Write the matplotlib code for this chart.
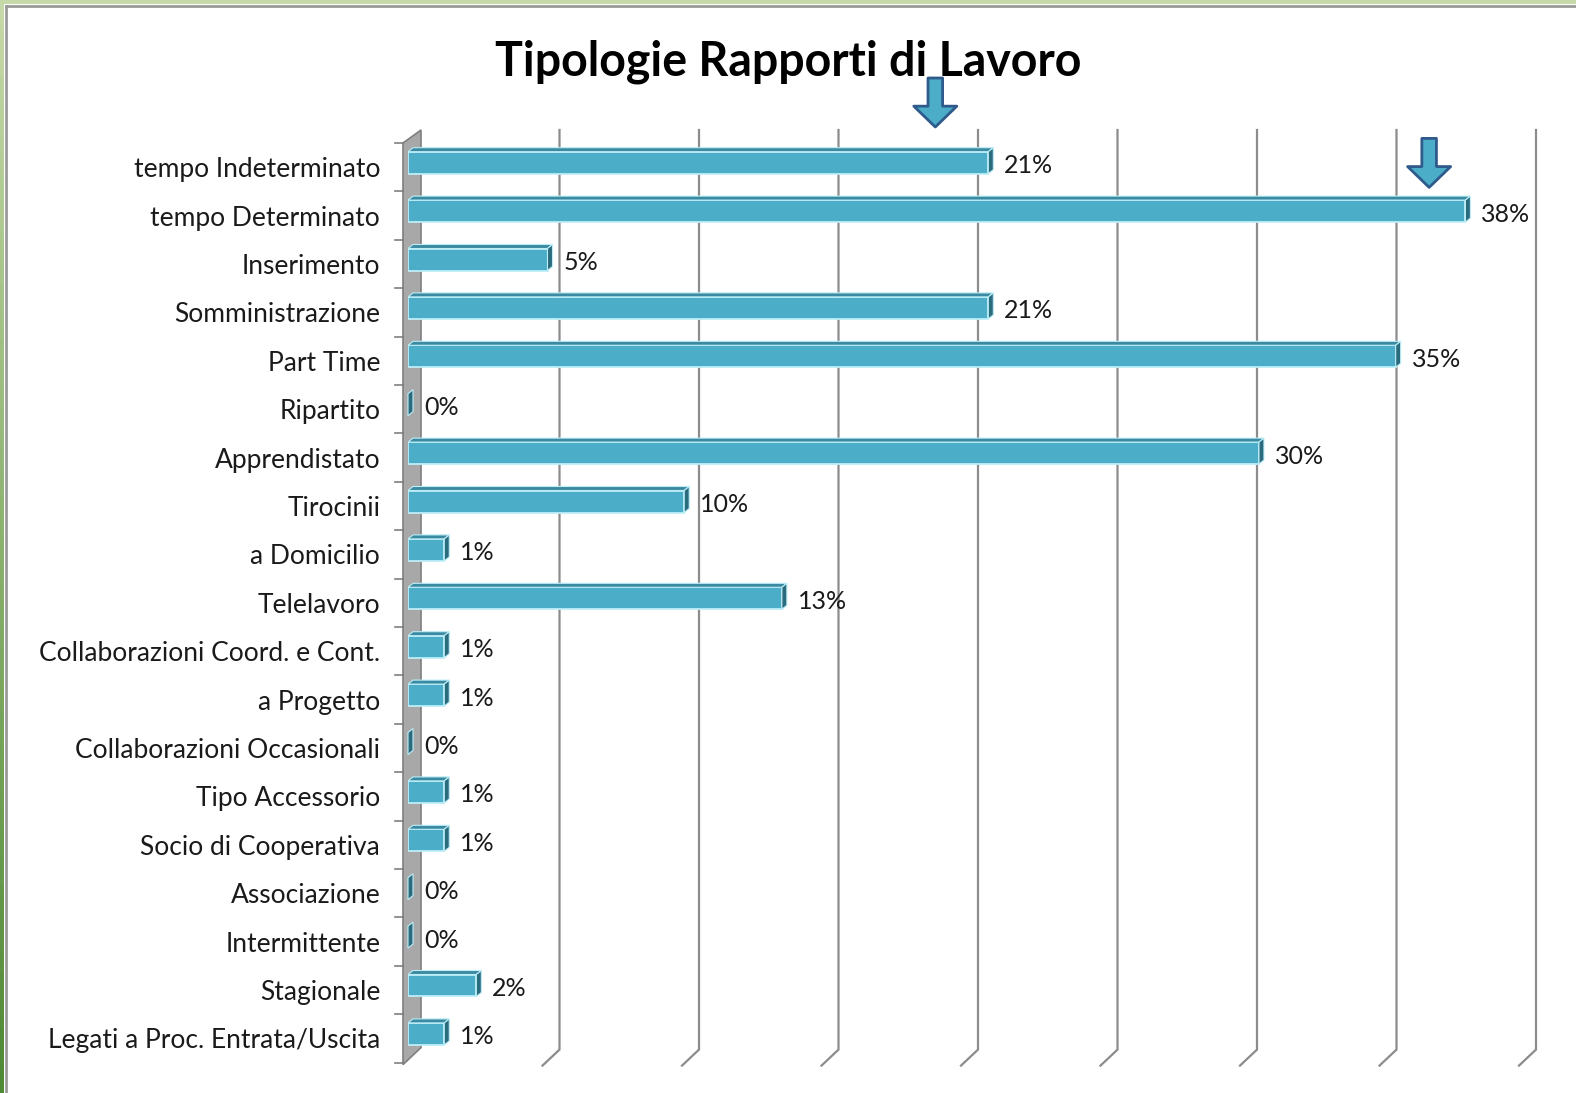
import matplotlib.pyplot as plt
import numpy as np
from matplotlib.patches import Polygon, Rectangle

plt.rcParams["font.family"] = ["Lato", "DejaVu Sans"]

TITLE = "Tipologie Rapporti di Lavoro"
categories = [
    "tempo Indeterminato",
    "tempo Determinato",
    "Inserimento",
    "Somministrazione",
    "Part Time",
    "Ripartito",
    "Apprendistato",
    "Tirocinii",
    "a Domicilio",
    "Telelavoro",
    "Collaborazioni Coord. e Cont.",
    "a Progetto",
    "Collaborazioni Occasionali",
    "Tipo Accessorio",
    "Socio di Cooperativa",
    "Associazione",
    "Intermittente",
    "Stagionale",
    "Legati a Proc. Entrata/Uscita",
]
values = [20.8, 37.9, 5.0, 20.8, 35.4, 0.0, 30.5, 9.9, 1.3, 13.4,
          1.3, 1.3, 0.0, 1.3, 1.3, 0.0, 0.0, 2.45, 1.3]
grid_values = [5, 10, 15, 20, 25, 30, 35, 40]
# arrows pointing at the two highlighted rows (x value, row index)
arrow_marks = [(18.9, 0), (36.6, 1)]

W, H = 1576, 1093
fig = plt.figure(figsize=(W / 100, H / 100), dpi=100)
fig.patch.set_facecolor("white")

# green slide frame + grey inner border
fig.patches.append(Rectangle((0, 1 - 4 / H), 1, 4 / H, transform=fig.transFigure,
                             facecolor="#c6d9a8", edgecolor="none"))
strip = fig.add_axes([0, 0, 4 / W, 1])
strip.imshow(np.linspace(0, 1, 100).reshape(-1, 1), aspect="auto",
             cmap=plt.matplotlib.colors.LinearSegmentedColormap.from_list("g", ["#c6d9a8", "#4f8a35"]))
strip.axis("off")
fig.add_artist(plt.Line2D([6 / W, 1], [1 - 6 / H, 1 - 6 / H], color="#9a9a9a", lw=2))
fig.add_artist(plt.Line2D([6 / W, 6 / W], [0, 1 - 6 / H], color="#9a9a9a", lw=2))

# plot area: value 0 at x=408px, 40 at 1524px; rows from 143px to 1062px
left_px, right_px, top_px, bot_px = 408, 1524, 143, 1062.6
ax = fig.add_axes([left_px / W, 1 - bot_px / H, (right_px - left_px) / W, (bot_px - top_px) / H])
n = len(categories)
ax.set_xlim(0, 40)
ax.set_ylim(n - 0.5, -0.5)
px_x = 40 / (right_px - left_px)
px_y = n / (bot_px - top_px)

for s in ax.spines.values():
    s.set_visible(False)
ax.set_xticks([])
ax.set_yticks(np.arange(n))
ax.set_yticklabels(categories, fontsize=19, color="#1a1a1a")
ax.tick_params(axis="y", which="major", length=0, pad=20)

# side wall
wall_front, wall_back = -5 * px_x, 13 * px_x
ax.add_patch(Polygon([(wall_front, -0.5), (wall_back, -0.5 - 13 * px_y),
                      (wall_back, n - 0.5 - 15 * px_y), (wall_front, n - 0.5 + 2 * px_y)],
                     closed=True, facecolor="#a8a8a8", edgecolor="#7f7f7f", lw=1.2,
                     clip_on=False, zorder=1))
# wall tick marks
for b in np.arange(n + 1) - 0.5:
    ax.plot([wall_front - 8 * px_x, wall_front], [b, b], color="#7f7f7f", lw=1.2,
            clip_on=False, zorder=1)

# back gridlines with floor diagonal
g_top = -0.5 - 13 * px_y
g_back_bot = n - 0.5 - 13 * px_y
g_front_bot = n - 0.5 + 3 * px_y
for g in grid_values:
    xb = g + 12 * px_x
    xf = g - 5 * px_x
    ax.plot([xb, xb, xf], [g_top, g_back_bot, g_front_bot], color="#8c8c8c", lw=1.6,
            clip_on=False, zorder=1, solid_joinstyle="miter")

# 3D-ish bars
bar_h = 22 * px_y
shift = -4.5 * px_y
dx, dy = 5 * px_x, 4 * px_y
face = "#4badc8"
top_col = "#3b8aa1"
side_col = "#2b6b7e"
edge = "#bdeef8"
for i, v in enumerate(values):
    yc = i + shift
    y_top, y_bot = yc - bar_h / 2, yc + bar_h / 2
    if v > 0:
        ax.add_patch(Rectangle((0, y_top), v, bar_h, facecolor=face, edgecolor=edge,
                               lw=1.3, zorder=3))
        ax.add_patch(Polygon([(0, y_top), (v, y_top), (v + dx, y_top - dy), (dx, y_top - dy)],
                             closed=True, facecolor=top_col, edgecolor=edge, lw=0.8, zorder=3))
    ax.add_patch(Polygon([(v, y_bot), (v + dx, y_bot - dy), (v + dx, y_top - dy), (v, y_top)],
                         closed=True, facecolor=side_col, edgecolor=edge, lw=0.8, zorder=4,
                         clip_on=False))
    ax.text(v + 16 * px_x, yc + 3 * px_y, f"{round(v)}%", fontsize=18, color="#1a1a1a",
            va="center", ha="left", zorder=5)

# highlight arrows
for xv, row in arrow_marks:
    tip = row - 0.5 + (-16 if row == 0 else -4) * px_y
    ax.annotate("", xy=(xv, tip), xytext=(xv, tip - 49 * px_y),
                arrowprops=dict(arrowstyle="simple,head_length=15,head_width=31,tail_width=10.5",
                                mutation_scale=1, facecolor="#4badc8", edgecolor="#2f5a8c",
                                lw=2, shrinkA=0, shrinkB=0),
                annotation_clip=False, zorder=6)

fig.text(788 / W, 1 - 62 / H, TITLE, fontsize=33.5, fontweight="bold", ha="center",
         va="center", color="black")

fig.savefig("out.png", dpi=100)
